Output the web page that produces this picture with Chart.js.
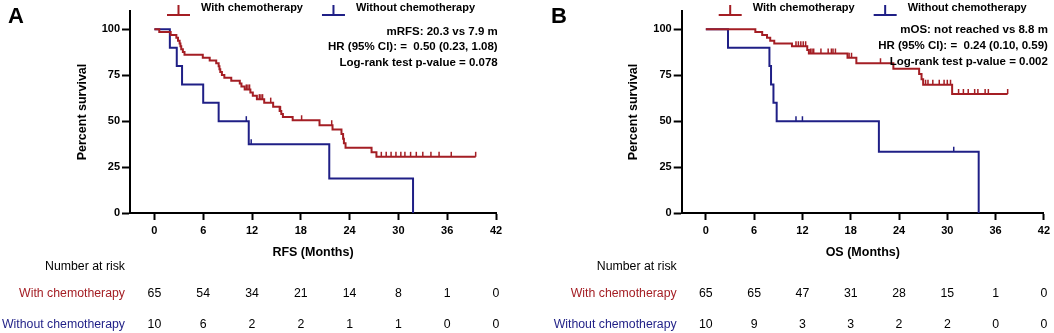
<!DOCTYPE html>
<html>
<head>
<meta charset="utf-8">
<script src="https://cdn.jsdelivr.net/npm/chart.js@4/dist/chart.umd.min.js"></script>
<style>
  body { margin: 0; background: #fff; }
  #wrap { position: relative; width: 1054px; height: 333px; }
  canvas { position: absolute; top: 0; }
</style>
</head>
<body>
<div id="wrap">
  <canvas id="chartA" width="527" height="333" style="left:0"></canvas>
  <canvas id="chartB" width="527" height="333" style="left:527px"></canvas>
</div>
<script>
"use strict";

// 1: data
const timeTicks = [0, 6, 12, 18, 24, 30, 36, 42];
const survTicks = [0, 25, 50, 75, 100];

// RFS (panel A)
const rfsWithT = [0, 0.6, 2.0, 2.7, 2.9, 3.1, 3.2, 3.3, 3.5, 3.7, 5.95, 6.8, 7.6, 7.9, 8.0, 8.1, 8.3, 8.6, 9.45, 10.5,
  10.7, 11.1, 11.8, 12.1, 12.6, 13.5, 14.6, 15.4, 15.6, 15.8, 17.0, 20.3, 21.9, 23.0, 23.2, 23.3, 23.5, 26.7, 27.3, 39.5];
const rfsWithS = [100, 98.5, 96.9, 95.4, 93.8, 92.3, 90.8, 89.2, 87.7, 86.2, 84.6, 83.0, 81.5, 79.9, 78.3, 76.8, 75.2, 73.6, 72.0, 70.5,
  68.9, 67.3, 65.6, 63.8, 62.0, 60.1, 57.9, 55.5, 53.9, 52.3, 50.5, 47.8, 45.5, 43.0, 40.5, 38.0, 35.5, 33.1, 30.6, 30.6];
const rfsWithCensor = [11.3, 11.5, 11.7, 12.9, 13.1, 13.3, 14.3, 15.5, 18.1, 21.8, 27.9, 28.5, 29.1, 29.7,
  30.3, 30.8, 31.5, 32.2, 33.0, 34.0, 35.0, 36.5, 39.5];
const rfsWithoutT = [0, 1.9, 2.75, 3.4, 6.0, 7.9, 11.6, 21.5, 31.8];
const rfsWithoutS = [100, 90, 80, 70, 60, 50, 37.5, 18.75, 0];
const rfsWithoutCensor = [11.3, 11.9];
const rfsRiskWith = [65, 54, 34, 21, 14, 8, 1, 0];
const rfsRiskWithout = [10, 6, 2, 2, 1, 1, 0, 0];
const rfsNotes = ['mRFS: 20.3 vs 7.9 m', 'HR (95% CI): =  0.50 (0.23, 1.08)', 'Log-rank test p-value = 0.078'];

// OS (panel B)
const osWithT = [0, 6.15, 7.0, 7.6, 8.0, 8.5, 10.7, 12.6, 12.8, 17.6, 18.7, 23.3, 26.5, 26.8, 27.0, 30.6, 37.5];
const osWithS = [100, 98.5, 96.9, 95.4, 93.8, 92.3, 90.8, 88.8, 86.9, 84.6, 81.6, 78.6, 75.7, 72.8, 69.9, 64.8, 64.8];
const osWithCensor = [11.2, 11.5, 11.8, 12.1, 12.4, 13.0, 13.2, 13.4, 14.3, 15.2, 15.6, 15.8, 16.1, 17.8, 18.1, 21.7,
  27.3, 27.6, 28.2, 29.0, 29.6, 30.0, 30.4, 31.4, 32.0, 32.6, 33.4, 33.8, 34.7, 35.1, 37.5];
const osWithoutT = [0, 2.75, 7.9, 8.1, 8.4, 8.8, 21.5, 33.9];
const osWithoutS = [100, 90, 80, 70, 60, 50, 33.3, 0];
const osWithoutCensor = [11.2, 12.0, 30.8];
const osRiskWith = [65, 65, 47, 31, 28, 15, 1, 0];
const osRiskWithout = [10, 9, 3, 3, 2, 2, 0, 0];
const osNotes = ['mOS: not reached vs 8.8 m', 'HR (95% CI): =  0.24 (0.10, 0.59)', 'Log-rank test p-value = 0.002'];

const FONT = "'Liberation Sans', Arial, sans-serif";
const RED = '#a41e24';
const BLUE = '#1f1f86';

// 2: helpers
function survivalAt(times, surv, t) {
  let s = surv[0];
  for (let i = 0; i < times.length; i++) {
    if (times[i] <= t) s = surv[i];
  }
  return s;
}

function curvePoints(times, surv) {
  return times.map((t, i) => ({x: t, y: surv[i]}));
}

function censorPoints(times, surv, cens) {
  return cens.map(t => ({x: t, y: survivalAt(times, surv, t)}));
}

// legend, notes, panel letter and number-at-risk table
const kmExtras = {
  id: 'kmExtras',
  afterDraw(chart, args, o) {
    const ctx = chart.ctx;
    const area = chart.chartArea;
    const xs = chart.scales.x;
    ctx.save();

    ctx.fillStyle = '#000';
    ctx.font = 'bold 22px ' + FONT;
    ctx.textAlign = 'left';
    ctx.textBaseline = 'alphabetic';
    ctx.fillText(o.letter, o.letterX, 23);

    // legend
    let lx = area.left + 37;
    ctx.font = 'bold 11px ' + FONT;
    ctx.textBaseline = 'middle';
    chart.data.datasets.filter(d => d.inLegend).forEach(d => {
      ctx.strokeStyle = d.borderColor;
      ctx.lineWidth = 2;
      ctx.beginPath();
      ctx.moveTo(lx, 15);
      ctx.lineTo(lx + 23, 15);
      ctx.moveTo(lx + 11.5, 15);
      ctx.lineTo(lx + 11.5, 5);
      ctx.stroke();
      ctx.fillStyle = '#000';
      ctx.fillText(d.label, lx + 34, 8);
      lx += 34 + ctx.measureText(d.label).width + 19;
    });

    // notes
    ctx.font = 'bold 11.5px ' + FONT;
    ctx.textAlign = 'right';
    o.notes.forEach((n, i) => ctx.fillText(n, area.right + o.notesDx, o.notesY[i]));

    // number at risk
    ctx.font = '12.3px ' + FONT;
    ctx.fillStyle = '#000';
    ctx.fillText('Number at risk', area.left - 5, 267);
    const rows = [
      {label: 'With chemotherapy', color: RED, vals: o.riskWith, y: 294},
      {label: 'Without chemotherapy', color: BLUE, vals: o.riskWithout, y: 325}
    ];
    rows.forEach(r => {
      ctx.textAlign = 'right';
      ctx.fillStyle = r.color;
      ctx.fillText(r.label, area.left - 5, r.y);
      ctx.textAlign = 'center';
      ctx.fillStyle = '#000';
      r.vals.forEach((v, i) => ctx.fillText(String(v), xs.getPixelForValue(timeTicks[i]), r.y));
    });
    ctx.restore();
  }
};

// 3: create the charts
function makeChart(id, cfg) {
  const lineSet = (label, color, t, s) => ({
    label, data: curvePoints(t, s), borderColor: color, backgroundColor: color,
    borderWidth: 2, stepped: 'before', pointRadius: 0, fill: false, inLegend: true
  });
  const censSet = (color, t, s, c) => ({
    data: censorPoints(t, s, c), showLine: false, pointStyle: 'dash', pointRotation: -90,
    pointRadius: 5, pointBorderColor: color, pointBorderWidth: 1.5, borderColor: color
  });
  return new Chart(document.getElementById(id), {
    type: 'line',
    data: {
      datasets: [
        lineSet('With chemotherapy', RED, cfg.withT, cfg.withS),
        lineSet('Without chemotherapy', BLUE, cfg.withoutT, cfg.withoutS),
        censSet(RED, cfg.withT, cfg.withS, cfg.withCensor),
        censSet(BLUE, cfg.withoutT, cfg.withoutS, cfg.withoutCensor)
      ]
    },
    options: {
      responsive: false,
      animation: false,
      events: [],
      layout: {padding: {top: 11, left: 0, right: cfg.padRight, bottom: 0}},
      plugins: {
        legend: {display: false},
        tooltip: {enabled: false},
        kmExtras: {
          letter: cfg.letter, letterX: cfg.letterX, notes: cfg.notes, notesDx: cfg.notesDx,
          notesY: cfg.notesY, riskWith: cfg.riskWith, riskWithout: cfg.riskWithout
        }
      },
      scales: {
        x: {
          type: 'linear', min: -3, max: 42,
          afterBuildTicks: s => { s.ticks = timeTicks.map(v => ({value: v})); },
          afterFit: s => { s.height = 120; },
          grid: {drawOnChartArea: false, drawTicks: true, tickLength: 7, tickWidth: 2, tickColor: '#000'},
          border: {display: true, color: '#000', width: 2},
          ticks: {color: '#000', padding: 4, maxRotation: 0, font: {family: FONT, size: 11, weight: 'bold'}},
          title: {display: true, text: cfg.xTitle, color: '#000',
            font: {family: FONT, size: 12.5, weight: 'bold'}, padding: {top: 0, bottom: 72.5}}
        },
        y: {
          min: 0, max: 110,
          afterBuildTicks: s => { s.ticks = survTicks.map(v => ({value: v})); },
          afterFit: s => { s.width = cfg.yWidth; },
          grid: {drawOnChartArea: false, drawTicks: true, tickLength: 8, tickWidth: 2, tickColor: '#000'},
          border: {display: true, color: '#000', width: 2},
          ticks: {color: '#000', padding: 2, font: {family: FONT, size: 11, weight: 'bold'}},
          title: {display: true, text: 'Percent survival', color: '#000',
            font: {family: FONT, size: 12.5, weight: 'bold'}, padding: {top: cfg.yTitlePad, bottom: 0}}
        }
      }
    },
    plugins: [kmExtras]
  });
}

makeChart('chartA', {
  letter: 'A', letterX: 8, xTitle: 'RFS (Months)', yWidth: 130, padRight: 31, yTitlePad: 75.5,
  notes: rfsNotes, notesDx: 1.7, notesY: [31.7, 47.3, 63.3],
  withT: rfsWithT, withS: rfsWithS, withCensor: rfsWithCensor,
  withoutT: rfsWithoutT, withoutS: rfsWithoutS, withoutCensor: rfsWithoutCensor,
  riskWith: rfsRiskWith, riskWithout: rfsRiskWithout
});

makeChart('chartB', {
  letter: 'B', letterX: 24, xTitle: 'OS (Months)', yWidth: 154.7, padRight: 8, yTitlePad: 99.5,
  notes: osNotes, notesDx: 4, notesY: [30, 45.7, 61.7],
  withT: osWithT, withS: osWithS, withCensor: osWithCensor,
  withoutT: osWithoutT, withoutS: osWithoutS, withoutCensor: osWithoutCensor,
  riskWith: osRiskWith, riskWithout: osRiskWithout
});
</script>
</body>
</html>
